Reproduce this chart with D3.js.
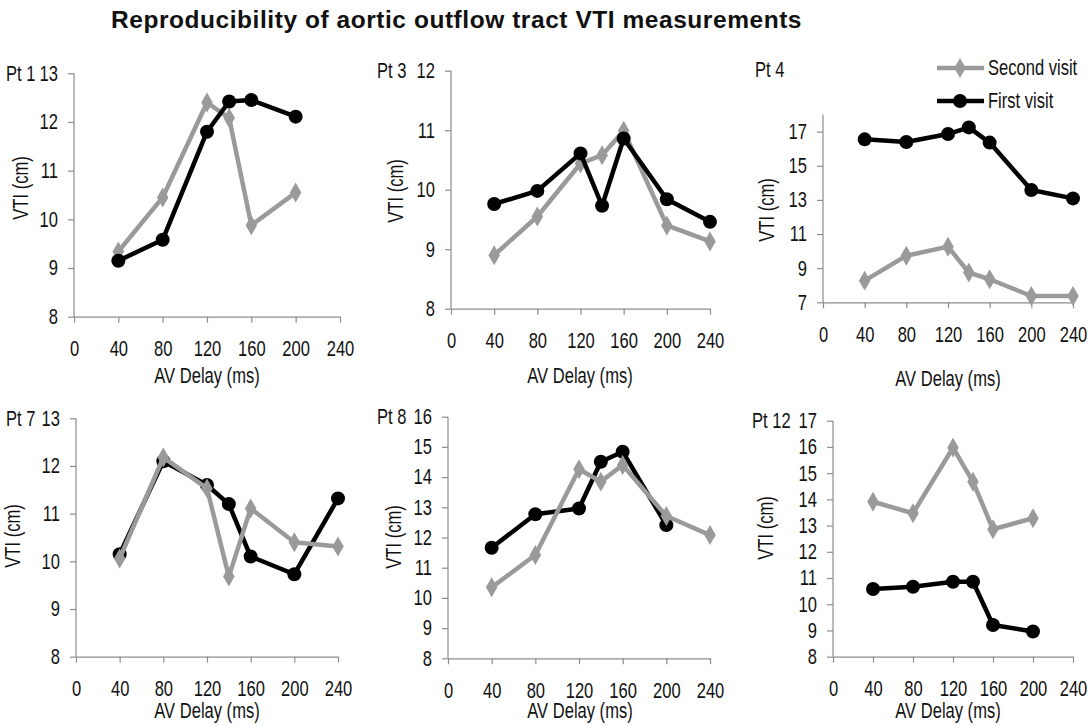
<!DOCTYPE html>
<html>
<head>
<meta charset="utf-8">
<script src="https://cdn.jsdelivr.net/npm/d3@7"></script>
<style>
  html, body { margin: 0; padding: 0; background: #fff; }
  svg { display: block; }
  text { font-family: "Liberation Sans", Arial, sans-serif; fill: #111; }
  .title { font-weight: bold; }
</style>
</head>
<body>
<svg id="chart" width="1092" height="726"></svg>
<script>
// ---- Data ----
const title = "Reproducibility of aortic outflow tract VTI measurements";
const avDelays = [40, 80, 120, 140, 160, 200, 240];
const xTicks = [0, 40, 80, 120, 160, 200, 240];
const seriesNames = ["Second visit", "First visit"];
const xAxisTitle = "AV Delay (ms)";
const yAxisTitle = "VTI (cm)";

const pt1Second = [9.34, 10.45, 12.40, 12.08, 9.88, 10.55, null];
const pt1First  = [9.15, 9.58, 11.80, 12.42, 12.45, 12.11, null];
const pt3Second = [8.90, 9.55, 10.44, 10.58, 10.99, 9.40, 9.13];
const pt3First  = [9.76, 9.98, 10.61, 9.73, 10.86, 9.84, 9.46];
const pt4Second = [8.27, 9.73, 10.26, 8.74, 8.35, 7.37, 7.37];
const pt4First  = [16.55, 16.39, 16.86, 17.25, 16.36, 13.58, 13.09];
const pt7Second = [10.06, 12.18, 11.53, 9.68, 11.11, 10.40, 10.31];
const pt7First  = [10.15, 12.10, 11.60, 11.20, 10.10, 9.73, 11.32];
const pt8Second = [10.35, 11.42, 14.26, 13.85, 14.40, 12.71, 12.08];
const pt8First  = [11.66, 12.77, 12.96, 14.51, 14.84, 12.41, null];
const pt12Second = [13.91, 13.47, 15.97, 14.67, 12.86, 13.28, null];
const pt12First  = [10.58, 10.67, 10.86, 10.86, 9.21, 8.96, null];

const panelLabels = ["Pt 1", "Pt 3", "Pt 4", "Pt 7", "Pt 8", "Pt 12"];
const yDomains = [[8, 13], [8, 12], [7, 18], [8, 13], [8, 16], [8, 17]];
const yTickLists = [
  [8, 9, 10, 11, 12, 13],
  [8, 9, 10, 11, 12],
  [7, 9, 11, 13, 15, 17],
  [8, 9, 10, 11, 12, 13],
  [8, 9, 10, 11, 12, 13, 14, 15, 16],
  [8, 9, 10, 11, 12, 13, 14, 15, 16, 17]
];
const secondData = [pt1Second, pt3Second, pt4Second, pt7Second, pt8Second, pt12Second];
const firstData  = [pt1First, pt3First, pt4First, pt7First, pt8First, pt12First];

// ---- Layout (pixels) ----
const layout = [
  { x0: 74,  x1: 340,  yTop: 73.3,  yBot: 316.7, labX: 6,   vtiX: 21,  vtiY: 188, avX: 207, avY: 383, ptInline: true },
  { x0: 451, x1: 710,  yTop: 70.7,  yBot: 308.7, labX: 377, vtiX: 396, vtiY: 191, avX: 580, avY: 383, ptInline: true },
  { x0: 823, x1: 1073, yTop: 114.6, yBot: 302.3, labX: 755, vtiX: 767, vtiY: 210, avX: 948, avY: 386, ptInline: false, ptY: 70 },
  { x0: 76,  x1: 338,  yTop: 418.3, yBot: 656.7, labX: 6,   vtiX: 13,  vtiY: 536, avX: 207, avY: 718, ptInline: true },
  { x0: 448, x1: 710,  yTop: 416.7, yBot: 658.3, labX: 377, vtiX: 394, vtiY: 537, avX: 580, avY: 718, ptInline: true },
  { x0: 833, x1: 1073, yTop: 420.7, yBot: 656.7, labX: 752, vtiX: 766, vtiY: 528, avX: 948, avY: 718, ptInline: true }
];

const grayCol = "#9a9a9a";
const blackCol = "#000";
const axisCol = "#8c8c8c";
const fs = 21.5;
const NARROW = 0.77;

// emulate a narrow (condensed) sans font by horizontal scaling
function narrow(sel) {
  sel.each(function () {
    const t = d3.select(this);
    const x = +t.attr("x") || 0, y = +t.attr("y") || 0;
    const tr = t.attr("transform") || "";
    t.attr("x", 0).attr("y", 0)
     .attr("transform", `${tr} translate(${x},${y}) scale(${NARROW},1)`);
  });
}

const svg = d3.select("#chart");

svg.append("text").attr("class", "title")
  .attr("x", 111).attr("y", 28)
  .style("font-size", "24.5px")
  .style("letter-spacing", "0.55px")
  .text(title);

const diamond = d3.symbol().type(d3.symbolDiamond).size(115);

layout.forEach((L, i) => {
  const x = d3.scaleLinear().domain([0, 240]).range([L.x0, L.x1]);
  const y = d3.scaleLinear().domain(yDomains[i]).range([L.yBot, L.yTop]);
  const g = svg.append("g");

  const xa = g.append("g").attr("transform", `translate(0,${L.yBot})`)
    .call(d3.axisBottom(x).tickValues(xTicks).tickFormat(d3.format("d"))
      .tickSize(6).tickPadding(18).tickSizeOuter(0));
  const ya = g.append("g").attr("transform", `translate(${L.x0},0)`)
    .call(d3.axisLeft(y).tickValues(yTickLists[i]).tickFormat(d3.format("d"))
      .tickSize(6).tickPadding(10).tickSizeOuter(0));
  [xa, ya].forEach(a => {
    a.select(".domain").attr("stroke", axisCol).attr("stroke-width", 1.2);
    a.selectAll(".tick line").attr("stroke", axisCol).attr("stroke-width", 1.2);
    a.selectAll(".tick text").attr("fill", "#111").style("font-size", fs + "px")
      .style("font-family", '"Liberation Sans", Arial, sans-serif');
    narrow(a.selectAll(".tick text"));
  });
  ya.select(".domain").attr("d", `M0,${L.yBot}V${y(yDomains[i][1])}`);

  const vt = g.append("text")
    .attr("transform", `translate(${L.vtiX},${L.vtiY}) rotate(-90)`)
    .attr("text-anchor", "middle").attr("dominant-baseline", "central")
    .style("font-size", fs + "px").text(yAxisTitle);
  narrow(vt);
  const at = g.append("text")
    .attr("x", L.avX).attr("y", L.avY)
    .attr("text-anchor", "middle")
    .style("font-size", fs + "px").text(xAxisTitle);
  narrow(at);

  const topTick = yTickLists[i][yTickLists[i].length - 1];
  const pt = g.append("text")
    .attr("x", L.labX)
    .attr("y", L.ptInline ? y(topTick) : L.ptY)
    .attr("dominant-baseline", "central")
    .style("font-size", fs + "px").text(panelLabels[i]);
  narrow(pt);

  const line = d3.line()
    .defined(d => d.v != null)
    .x(d => x(d.t)).y(d => y(d.v));

  const sec = avDelays.map((t, k) => ({ t, v: secondData[i][k] }));
  const fir = avDelays.map((t, k) => ({ t, v: firstData[i][k] }));

  const drawSecond = () => {
    g.append("path").datum(sec).attr("d", line)
      .attr("fill", "none").attr("stroke", grayCol).attr("stroke-width", 4.5).attr("stroke-linejoin", "round");
    g.selectAll(null).data(sec.filter(d => d.v != null)).enter().append("path")
      .attr("d", diamond)
      .attr("transform", d => `translate(${x(d.t)},${y(d.v)})`)
      .attr("fill", grayCol);
  };
  const drawFirst = () => {
    g.append("path").datum(fir).attr("d", line)
      .attr("fill", "none").attr("stroke", blackCol).attr("stroke-width", 4.5).attr("stroke-linejoin", "round");
    g.selectAll(null).data(fir.filter(d => d.v != null)).enter().append("circle")
      .attr("cx", d => x(d.t)).attr("cy", d => y(d.v)).attr("r", 7)
      .attr("fill", blackCol);
  };
  if (i === 3 || i === 4) { drawFirst(); drawSecond(); } else { drawSecond(); drawFirst(); }
});

// legend
const legendItems = [
  { name: seriesNames[0], col: grayCol, y: 68, type: "diamond" },
  { name: seriesNames[1], col: blackCol, y: 101, type: "circle" }
];
const lg = svg.append("g");
legendItems.forEach(it => {
  lg.append("line").attr("x1", 937).attr("x2", 984).attr("y1", it.y).attr("y2", it.y)
    .attr("stroke", it.col).attr("stroke-width", 4.5);
  if (it.type === "diamond") {
    lg.append("path").attr("d", diamond).attr("transform", `translate(960,${it.y})`).attr("fill", it.col);
  } else {
    lg.append("circle").attr("cx", 960).attr("cy", it.y).attr("r", 7).attr("fill", it.col);
  }
  const lt = lg.append("text").attr("x", 988).attr("y", it.y).attr("dominant-baseline", "central")
    .style("font-size", fs + "px").text(it.name);
  narrow(lt);
});
</script>
</body>
</html>
